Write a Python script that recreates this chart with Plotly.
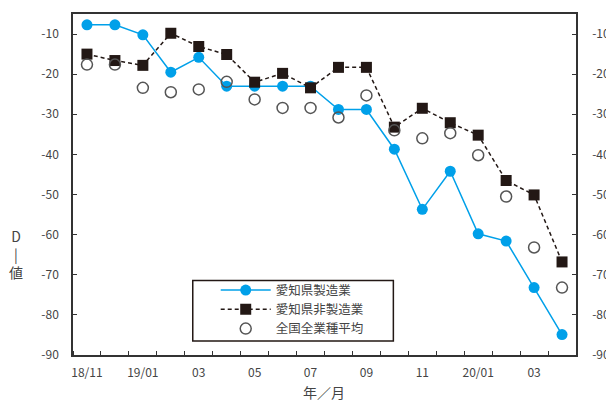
import plotly.graph_objects as go

months = ["18/11","18/12","19/01","19/02","19/03","19/04","19/05","19/06","19/07",
          "19/08","19/09","19/10","19/11","19/12","20/01","20/02","20/03","20/04"]
tick_labels = ["18/11","19/01","03","05","07","09","11","20/01","03"]

aichi_mfg = [-7.7,-7.7,-10.2,-19.5,-15.8,-23.0,-23.0,-23.0,-23.0,
             -28.8,-28.8,-38.7,-53.7,-44.2,-59.8,-61.6,-73.2,-84.9]
aichi_nonmfg = [-15.0,-16.6,-17.8,-9.8,-13.1,-15.1,-22.0,-19.8,-23.4,
                -18.3,-18.3,-33.2,-28.5,-32.1,-35.2,-46.5,-50.1,-66.8]
national_avg = [-17.6,-17.6,-23.4,-24.5,-23.8,-21.9,-26.3,-28.4,-28.4,
                -30.8,-25.3,-34.0,-36.0,-34.7,-40.2,-50.5,-63.2,-73.2]
y_ticks = [-10,-20,-30,-40,-50,-60,-70,-80,-90]

xi = list(range(len(months)))
font = "Noto Sans CJK JP"
txt = "#444444"

# page geometry (the page body adds an 8px offset)
OFF = 8
PL, PR, PT, PB = 73, 577, 12, 355
pw, ph = PR - PL, PB - PT

def px(x):
    return (x - PL) / pw

def py(y):
    return (PB - y) / ph

fig = go.Figure()
fig.add_trace(go.Scatter(x=xi, y=aichi_mfg, name="愛知県製造業", mode="lines+markers",
                         line=dict(color="#00a0e9", width=1.5),
                         marker=dict(symbol="circle", size=11, color="#00a0e9")))
fig.add_trace(go.Scatter(x=xi, y=aichi_nonmfg, name="愛知県非製造業", mode="lines+markers",
                         line=dict(color="#231815", width=1.5, dash="4px,3px"),
                         marker=dict(symbol="square", size=11, color="#231815")))
fig.add_trace(go.Scatter(x=xi, y=national_avg, name="全国全業種平均", mode="markers",
                         marker=dict(symbol="circle-open", size=11, color="#555555",
                                     line=dict(width=1.5, color="#555555"))))
fig.add_trace(go.Scatter(x=[], y=[], yaxis="y2", showlegend=False, hoverinfo="skip"))

yax = dict(range=[-90, -5], tickvals=y_ticks, ticktext=[str(v) for v in y_ticks],
           ticks="inside", ticklen=4, tickcolor="#333", showline=True, linecolor="#333",
           linewidth=1.5, showgrid=False, zeroline=False,
           tickfont=dict(family=font, size=12, color=txt))

fig.update_layout(
    width=614 - OFF, height=401 - OFF,
    margin=dict(l=PL - OFF, r=614 - PR, t=PT - OFF, b=401 - PB),
    plot_bgcolor="white", paper_bgcolor="white",
    xaxis=dict(range=[-0.5, 17.5], tickvals=xi[::2], ticktext=tick_labels,
               ticks="", showline=True, linecolor="#333", linewidth=1.5, mirror=True,
               showgrid=False, zeroline=False, ticklabelstandoff=6,
               tickfont=dict(family=font, size=12, color=txt),
               minor=dict(tick0=-0.5, dtick=1, ticks="inside", ticklen=4,
                          tickcolor="#333", showgrid=False)),
    yaxis=dict(**yax, side="left", ticklabelstandoff=10),
    yaxis2=dict(**yax, side="right", overlaying="y", ticklabelstandoff=12),
    showlegend=True,
    legend=dict(x=px(216), y=py(275), xanchor="left", yanchor="top",
                borderwidth=0, bgcolor="rgba(0,0,0,0)",
                itemwidth=50, tracegroupgap=0,
                font=dict(family=font, size=12.5, color=txt)),
    shapes=[dict(type="rect", xref="paper", yref="paper",
                 x0=px(193), x1=px(394), y0=py(341), y1=py(280),
                 line=dict(color="#231815", width=1.5), fillcolor="white", layer="below")],
    annotations=[
        dict(text="D<br>|<br>値", x=px(16), y=py(253), xref="paper", yref="paper",
             xanchor="center", yanchor="middle",
             showarrow=False, font=dict(family=font, size=14, color=txt)),
        dict(text="年／月", x=px(324), y=py(392), xref="paper", yref="paper",
             xanchor="center", yanchor="middle",
             showarrow=False, font=dict(family=font, size=14, color=txt)),
    ],
)

fig.write_html("out.html")
